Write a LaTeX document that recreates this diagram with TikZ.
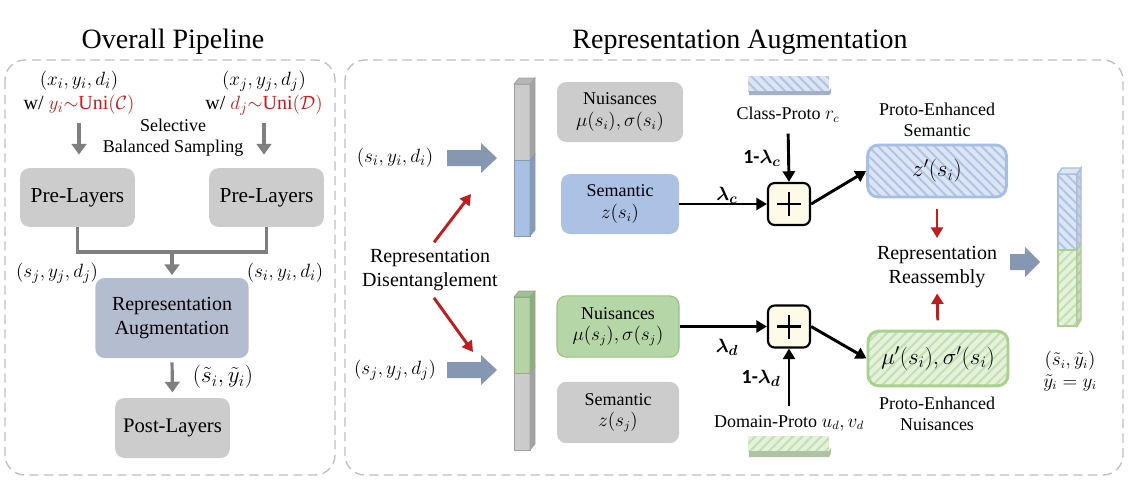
\documentclass[tikz,border=0pt]{standalone}
\usepackage{amsmath, amssymb}
\usepackage{fontspec}
\setmainfont{Liberation Serif}
\setsansfont{Carlito}
\usetikzlibrary{math,arrows.meta,patterns.meta}

\definecolor{boxgray}{RGB}{204,204,204}
\definecolor{augblue}{RGB}{180,189,208}
\definecolor{semblue}{RGB}{171,194,228}
\definecolor{nuigreen}{RGB}{181,214,166}
\definecolor{nuiedge}{RGB}{150,196,125}
\definecolor{framegray}{RGB}{191,191,191}
\definecolor{arrgray}{RGB}{127,127,127}
\definecolor{bigarr}{RGB}{134,151,177}
\definecolor{darkred}{RGB}{190,30,30}
\definecolor{pluscream}{RGB}{255,249,232}
\definecolor{hblue}{RGB}{220,229,244}
\definecolor{hbluel}{RGB}{176,196,230}
\definecolor{hblueedge}{RGB}{166,190,228}
\definecolor{hgreen}{RGB}{228,241,219}
\definecolor{hgreenl}{RGB}{196,223,178}
\definecolor{hgreenedge}{RGB}{169,209,142}
\definecolor{bargray}{RGB}{203,203,203}
\definecolor{barblue}{RGB}{168,192,228}
\definecolor{bargreen}{RGB}{180,213,163}

\begin{document}
\begin{tikzpicture}[x=0.75pt, y=-0.75pt,
    txt/.style={font=\fontsize{15}{18}\selectfont, align=center, inner sep=1pt},
    stxt/.style={font=\fontsize{13.5}{16}\selectfont, align=center, inner sep=1pt},
    btxt/.style={font=\fontsize{17}{19}\selectfont, align=center, inner sep=1pt},
    ttl/.style={font=\fontsize{21}{25}\selectfont},
    layerbox/.style={fill=boxgray, rounded corners=7pt, align=center, inner sep=0pt},
    dashframe/.style={draw=framegray, line width=1pt, rounded corners=15pt, dash pattern=on 7pt off 4pt},
    garrow/.style={draw=arrgray, line width=2.4pt, -{Triangle[length=8pt,width=11pt]}},
    gline/.style={draw=arrgray, line width=2.4pt},
    barrow/.style={line width=2.2pt, -{Triangle[length=8pt,width=9pt]}},
    rarrow/.style={draw=darkred, line width=2.2pt, -{Triangle[length=8pt,width=9pt]}},
    plusbox/.style={draw, line width=1.6pt, fill=pluscream, rounded corners=5pt, minimum size=31.5pt, inner sep=0pt},
    hatchblue/.style={preaction={fill=hblue}, pattern={Lines[angle=-45,distance=5pt,line width=1.5pt]}, pattern color=hbluel},
    hatchgreen/.style={preaction={fill=hgreen}, pattern={Lines[angle=45,distance=5pt,line width=1.5pt]}, pattern color=hgreenl}]
  \useasboundingbox (0,0) rectangle (1132,494);
  \tikzmath{\bl = 514; \br = 530; \dx = 5; \dy = 6; \rl = 1058; \rr = 1077; \rdx = 4;}

  % frames and titles
  \draw[dashframe] (5,60) rectangle (335,475);
  \draw[dashframe] (345,60) rectangle (1123,475);
  \node[ttl] (ttlpipe) at (173,42) {Overall Pipeline};
  \node[ttl] (ttlaug) at (740,42) {Representation Augmentation};

  % overall pipeline
  \node[txt] (xi) at (79,93) {$(x_i, y_i, d_i)$\\w/ \textcolor{darkred}{$y_i{\sim}\mathrm{Uni}(\mathcal{C})$}};
  \node[txt] (xj) at (264,93) {$(x_j, y_j, d_j)$\\w/ \textcolor{darkred}{$d_j{\sim}\mathrm{Uni}(\mathcal{D})$}};
  \node[stxt] (sel) at (173,138) {Selective\\Balanced Sampling};
  \node[layerbox, font=\fontsize{16}{19}\selectfont, minimum width=86pt, minimum height=44pt] (prel) at (77.5,197.5) {Pre-Layers};
  \node[layerbox, font=\fontsize{16}{19}\selectfont, minimum width=86pt, minimum height=44pt] (prer) at (266.5,197.5) {Pre-Layers};
  \node[layerbox, txt, fill=augblue, minimum width=115pt, minimum height=60pt] (aug) at (172,318) {Representation\\Augmentation};
  \node[layerbox, font=\fontsize{15.5}{18}\selectfont, minimum width=86pt, minimum height=45pt] (post) at (172.5,428) {Post-Layers};
  \node[txt] (sjl) at (57,273) {$(s_j, y_j, d_j)$};
  \node[txt] (sil) at (285,273) {$(s_i, y_i, d_i)$};
  \node[btxt] (sty) at (223,377) {$(\tilde{s}_i, \tilde{y}_i)$};
  \coordinate (join) at (172,252);

  \draw[garrow, shorten <=5pt, shorten >=10pt] (xi.south) -- (xi.south |- prel.north);
  \draw[garrow, shorten <=5pt, shorten >=10pt] (xj.south) -- (xj.south |- prer.north);
  \draw[gline] (prel.south) |- (prer.south |- join) -- (prer.south);
  \draw[garrow, shorten >=2pt] (join) -- (aug.north);
  \draw[garrow, shorten <=3pt, shorten >=4pt] (aug.south) -- (post.north);

  % disentanglement
  \node[txt] (ini) at (395,158) {$(s_i, y_i, d_i)$};
  \node[txt] (inj) at (395,370) {$(s_j, y_j, d_j)$};
  \node[txt] (dis) at (430,270) {Representation\\Disentanglement};
  \coordinate (dtop) at (471,194);
  \coordinate (dbot) at (473,352);
  \foreach \yy in {158,370}
    \fill[bigarr] (447,\yy-8) -- (481,\yy-8) -- (481,\yy-15) -- (497,\yy) -- (481,\yy+15) -- (481,\yy+8) -- (447,\yy+8) -- cycle;
  \draw[rarrow, shorten <=5pt] (dis.north) -- (dtop);
  \draw[rarrow, shorten <=5pt] (dis.south) -- (dbot);

  \foreach \yt/\ym/\yb/\ca/\cb in {84/160/236/bargray/barblue, 297/373/450/bargreen/bargray}{
    \filldraw[fill=\ca, draw=\ca!80!black, line width=0.5pt] (\bl,\yt) rectangle (\br,\ym);
    \filldraw[fill=\cb, draw=\cb!80!black, line width=0.5pt] (\bl,\ym) rectangle (\br,\yb);
    \filldraw[fill=\ca!80!black, draw=\ca!80!black, line width=0.5pt] (\br,\yt) -- (\br+\dx,\yt-\dy) -- (\br+\dx,\ym-\dy) -- (\br,\ym) -- cycle;
    \filldraw[fill=\cb!80!black, draw=\cb!80!black, line width=0.5pt] (\br,\ym) -- (\br+\dx,\ym-\dy) -- (\br+\dx,\yb-\dy) -- (\br,\yb) -- cycle;
    \filldraw[fill=\ca!90!black, draw=\ca!80!black, line width=0.5pt] (\bl,\yt) -- (\bl+\dx,\yt-\dy) -- (\br+\dx,\yt-\dy) -- (\br,\yt) -- cycle;
  }

  \node[layerbox, stxt, minimum width=94.5pt, minimum height=45pt] (nui) at (620,112) {Nuisances\\$\mu(s_i), \sigma(s_i)$};
  \node[layerbox, stxt, fill=semblue, minimum width=88.5pt, minimum height=45pt] (semi) at (620,204) {Semantic\\$z(s_i)$};
  \node[layerbox, stxt, fill=nuigreen, draw=nuiedge, line width=0.8pt, minimum width=91.5pt, minimum height=46pt] (nuj) at (618,326.5) {Nuisances\\$\mu(s_j), \sigma(s_j)$};
  \node[layerbox, stxt, minimum width=91.5pt, minimum height=46pt] (semj) at (618,412.5) {Semantic\\$z(s_j)$};

  % prototypes
  \filldraw[draw=none, hatchblue] (748,76) rectangle (829,91);
  \fill[hbluel!70!gray] (749,91) -- (829,91) -- (831,88) -- (831,93) -- (829,95) -- (749,95) -- cycle;
  \filldraw[draw=none, hatchgreen] (748,436) rectangle (829,451);
  \fill[hgreenl!70!gray] (749,451) -- (829,451) -- (831,448) -- (831,453) -- (829,457) -- (749,457) -- cycle;
  \node[stxt] (cp) at (788,115) {Class-Proto $r_c$};
  \node[stxt] (dp) at (789,423) {Domain-Proto $u_d, v_d$};

  \node[plusbox] (pc) at (789,204) {};
  \node[plusbox] (pd) at (789,326.5) {};
  \foreach \pp in {pc,pd}{
    \draw[line width=2.2pt] ([xshift=-9pt]\pp.center) -- ([xshift=9pt]\pp.center);
    \draw[line width=2.2pt] ([yshift=-9pt]\pp.center) -- ([yshift=9pt]\pp.center);
  }
  \node[txt] (lc) at (727,195) {$\boldsymbol{\lambda_c}$};
  \node[txt] (olc) at (762,158) {\textsf{\bfseries 1-}$\boldsymbol{\lambda_c}$};
  \node[txt] (ld) at (727,347) {$\boldsymbol{\lambda_d}$};
  \node[txt] (old) at (761,378) {\textsf{\bfseries 1-}$\boldsymbol{\lambda_d}$};

  \node[hatchblue, draw=hblueedge, line width=2.2pt, rounded corners=8pt, minimum width=104pt, minimum height=39pt, btxt] (zp) at (937,171) {$z'(s_i)$};
  \node[hatchgreen, draw=hgreenedge, line width=2.2pt, rounded corners=8pt, minimum width=105pt, minimum height=41pt, btxt] (mp) at (938,358.5) {$\mu'(s_i), \sigma'(s_i)$};
  \node[stxt] (pes) at (937,120) {Proto-Enhanced\\Semantic};
  \node[stxt] (pen) at (937,414) {Proto-Enhanced\\Nuisances};
  \node[txt] (rr) at (937,267) {Representation\\Reassembly};

  \draw[barrow] (semi.east) -- (pc.west);
  \draw[barrow, shorten <=7pt] (cp.south) -- (pc.north);
  \draw[barrow] (pc.east) -- (zp.west);
  \draw[barrow] (nuj.east) -- (pd.west);
  \draw[barrow, shorten <=6pt] (dp.north) -- (pd.south);
  \draw[barrow] (pd.east) -- (mp.west);
  \draw[rarrow, shorten <=8pt, shorten >=5pt] (zp.south) -- (rr.north);
  \draw[rarrow, shorten <=7pt, shorten >=3pt] (mp.north) -- (rr.south);

  % reassembled output
  \fill[bigarr] (1010,254) -- (1025,254) -- (1025,247) -- (1040,262) -- (1025,277) -- (1025,270) -- (1010,270) -- cycle;
  \filldraw[hatchblue, draw=hblueedge, line width=1pt] (\rl,174) rectangle (\rr,250);
  \filldraw[hatchgreen, draw=hgreenedge, line width=1pt] (\rl,250) rectangle (\rr,326);
  \filldraw[preaction={fill=hblue!80!gray}, pattern={Lines[angle=-45,distance=5pt,line width=1.5pt]}, pattern color=gray!50, draw=hblueedge, line width=1pt] (\rr,174) -- (\rr+\rdx,168) -- (\rr+\rdx,244) -- (\rr,250) -- cycle;
  \filldraw[preaction={fill=hgreen!80!gray}, pattern={Lines[angle=45,distance=5pt,line width=1.5pt]}, pattern color=gray!50, draw=hgreenedge, line width=1pt] (\rr,250) -- (\rr+\rdx,244) -- (\rr+\rdx,320) -- (\rr,326) -- cycle;
  \filldraw[fill=hblue, draw=hblueedge, line width=1pt] (\rl,174) -- (\rl+\rdx,168) -- (\rr+\rdx,168) -- (\rr,174) -- cycle;
  \node[stxt] (outy) at (1070,371) {$(\tilde{s}_i, \tilde{y}_i)$\\$\tilde{y}_i = y_i$};
\end{tikzpicture}
\end{document}
